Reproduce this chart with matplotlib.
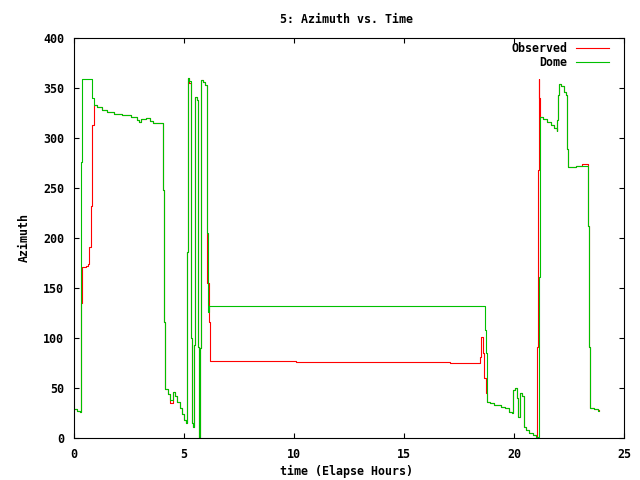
"""Azimuth vs. time, gnuplot-style step plot."""
import matplotlib
matplotlib.use('Agg')
import matplotlib.pyplot as plt

RED = '#ff0000'
GREEN = '#00c000'
FONT = dict(family='DejaVu Sans Mono', weight='bold', size=8.4)

# Observed azimuth (hours, degrees) -- value held until next time
obs_t = [0.00, 0.15, 0.27, 0.30, 0.33, 0.36, 0.55, 0.65, 0.70, 0.75, 0.80,
         0.84, 0.90, 1.05, 1.25, 1.50, 1.80, 2.20, 2.60, 2.85, 2.95, 3.05,
         3.25, 3.45, 3.60, 4.06, 4.09, 4.12, 4.25, 4.35, 4.50, 4.60, 4.70,
         4.80, 4.90, 5.00, 5.08, 5.12, 5.17, 5.24, 5.30, 5.33, 5.38, 5.42,
         5.45, 5.52, 5.58, 5.63, 5.68, 5.71, 5.75, 5.85, 5.95, 6.03, 6.06,
         6.12, 6.17, 10.09, 10.73, 17.09, 18.45, 18.48, 18.55, 18.58, 18.65,
         18.72, 18.76, 18.90, 19.10, 19.40, 19.60, 19.75, 19.90, 19.97,
         20.05, 20.12, 20.20, 20.27, 20.38, 20.47, 20.55, 20.70, 20.85,
         21.00, 21.03, 21.08, 21.12, 21.15, 21.18, 21.30, 21.50, 21.70,
         21.80, 21.94, 21.97, 22.01, 22.05, 22.15, 22.25, 22.35, 22.40,
         22.43, 22.47, 22.80, 23.10, 23.38, 23.42, 23.45, 23.65, 23.80, 23.88]
obs_az = [29, 27, 26, 63, 135, 171, 172, 174, 191, 232, 273,
          313, 333, 331, 328, 326, 324, 323, 321, 318, 316, 319,
          320, 317, 315, 248, 116, 49, 44, 35, 46, 42, 36,
          30, 24, 18, 15, 186, 360, 355, 270, 100, 15, 11,
          93, 341, 338, 91, 0, 90, 358, 356, 353, 301, 155,
          116, 77, 76, 76, 75, 81, 101, 101, 85, 60,
          45, 36, 35, 33, 31, 30, 26, 25, 48,
          50, 40, 21, 45, 42, 11, 8, 5, 3,
          1, 91, 268, 359, 340, 321, 319, 316, 313,
          310, 307, 318, 343, 354, 352, 346, 343, 323,
          289, 271, 272, 274, 212, 91, 30, 29, 28, 28]

# Dome azimuth
dome_t = [0.00, 0.15, 0.27, 0.30, 0.33, 0.36, 0.80, 0.84, 0.90, 1.05, 1.25,
          1.50, 1.80, 2.20, 2.60, 2.85, 2.95, 3.05, 3.25, 3.45, 3.60, 4.06,
          4.09, 4.12, 4.25, 4.35, 4.50, 4.60, 4.70, 4.80, 4.90, 5.00, 5.08,
          5.12, 5.17, 5.24, 5.30, 5.33, 5.38, 5.42, 5.45, 5.52, 5.58, 5.63,
          5.68, 5.71, 5.75, 5.85, 5.95, 6.03, 6.06, 6.08, 6.12, 18.70, 18.73,
          18.76, 18.90, 19.10, 19.40, 19.60, 19.75, 19.90, 19.97, 20.05,
          20.12, 20.20, 20.27, 20.38, 20.47, 20.55, 20.70, 20.85, 21.00,
          21.15, 21.18, 21.30, 21.50, 21.70, 21.80, 21.94, 21.97, 22.01,
          22.05, 22.15, 22.25, 22.35, 22.40, 22.43, 22.47, 22.80, 23.38,
          23.42, 23.45, 23.65, 23.80, 23.88]
dome_az = [29, 27, 26, 110, 276, 359, 352, 340, 333, 331, 328,
           326, 324, 323, 321, 318, 316, 319, 320, 317, 315, 248,
           116, 49, 44, 38, 46, 42, 36, 30, 24, 18, 15,
           186, 360, 357, 270, 100, 15, 11, 93, 341, 338, 91,
           0, 90, 358, 356, 353, 301, 205, 126, 132, 108, 85,
           36, 35, 33, 31, 30, 26, 25, 48, 50,
           40, 21, 45, 42, 11, 8, 5, 3, 1,
           161, 321, 319, 316, 313, 310, 307, 318, 343,
           354, 352, 346, 343, 323, 289, 271, 272, 212,
           91, 30, 29, 27, 27]

xticks = [0, 5, 10, 15, 20, 25]
yticks = [0, 50, 100, 150, 200, 250, 300, 350, 400]

fig = plt.figure(figsize=(6.4, 4.8), dpi=100)
ax = fig.add_axes([74/640, 1-438/480, 550/640, 400/480])

ax.plot(obs_t, obs_az, drawstyle='steps-post', color=RED, lw=0.8,
        label='Observed')
ax.plot(dome_t, dome_az, drawstyle='steps-post', color=GREEN, lw=0.8,
        label='Dome')

ax.set_xlim(0, 25)
ax.set_ylim(0, 400)
ax.set_xticks(xticks)
ax.set_yticks(yticks)
ax.tick_params(direction='in', length=3.6, width=0.8, top=True, right=True,
               pad=7, labelsize=FONT['size'])
for lab in ax.get_xticklabels() + ax.get_yticklabels():
    lab.set_fontfamily(FONT['family'])
    lab.set_fontweight('bold')
for s in ax.spines.values():
    s.set_linewidth(0.8)

# legend: text right-aligned, sample line to its right (gnuplot key)
leg = ax.legend(loc='upper right', frameon=False, markerfirst=False,
                prop=FONT, handlelength=2.85, handletextpad=0.7,
                labelspacing=0.08, borderaxespad=0, borderpad=0,
                bbox_to_anchor=(609/640, 1-42/480),
                bbox_transform=fig.transFigure)

fig.text(346.7/640, 1-19.3/480, '5: Azimuth vs. Time', ha='center',
         va='center', **FONT)
fig.text(346.7/640, 1-471.7/480, 'time (Elapse Hours)', ha='center',
         va='center', **FONT)
fig.text(24/640, 1-238/480, 'Azimuth', ha='center', va='center',
         rotation=90, **FONT)

fig.savefig('out.png', dpi=100, facecolor='white')
